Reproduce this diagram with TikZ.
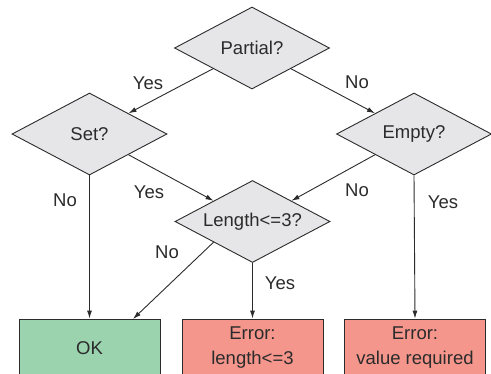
\documentclass[tikz,border=0pt]{standalone}
\usepackage{fontspec}
\setmainfont{Liberation Sans}
\usepackage{xcolor}
\usetikzlibrary{positioning,shapes.geometric,arrows.meta}

\definecolor{askgray}{HTML}{E6E6E8}
\definecolor{okgreen}{HTML}{9BD3AE}
\definecolor{errred}{HTML}{F4968C}
\definecolor{inkgray}{HTML}{2B2B2B}

\begin{document}
\begin{tikzpicture}[
    x=1bp, y=-1bp,
    every node/.style={font=\fontsize{18.5bp}{25bp}\selectfont, text=inkgray, align=center},
    ask/.style={draw=inkgray, line width=0.9bp, fill=askgray, diamond, aspect=1.9, inner sep=0pt,
        minimum width=155bp, minimum height=82bp},
    result/.style={draw=inkgray, line width=0.9bp, rectangle, minimum width=141bp, minimum height=58bp, inner sep=0pt},
    flow/.style={draw=inkgray, line width=0.9bp, -{Latex[length=8bp,width=5bp]}}
]
\useasboundingbox (0,0) rectangle (491,373);

% questions
\node[ask] (partial) at (252,48) {Partial?};
\node[ask] (set) at (89.5,134) {Set?};
\node[ask] (empty) at (414,134) {Empty?};
\node[ask] (len) at (252.5,221.5) {Length<=3?};

% outcomes
\node[result, fill=okgreen] (ok) at (89.5,348) {OK};
\node[result, fill=errred] (errlen) at (252.5,348) {Error:\\length<=3};
\node[result, fill=errred] (errval) at (415,348) {Error:\\value required};
\coordinate (okin) at (133,319);

% connectors
\draw[flow] (partial.south west) -- (set.north east);
\draw[flow] (partial.south east) -- (empty.north west);
\draw[flow] (set.south east) -- (len.north west);
\draw[flow] (empty.south west) -- (len.north east);
\draw[flow] (set.south) -- (ok.north);
\draw[flow] (empty.south) -- (errval.north);
\draw[flow] (len.south) -- (errlen.north);
\draw[flow] (len.south west) -- (okin);

% answers
\node (yes1) at (148,83) {Yes};
\node (no1) at (357,82) {No};
\node (no2) at (65,200) {No};
\node (yes2) at (149,192) {Yes};
\node (no3) at (357,190) {No};
\node (yes3) at (443,202) {Yes};
\node (no4) at (167,252) {No};
\node (yes4) at (280,283) {Yes};
\end{tikzpicture}
\end{document}
